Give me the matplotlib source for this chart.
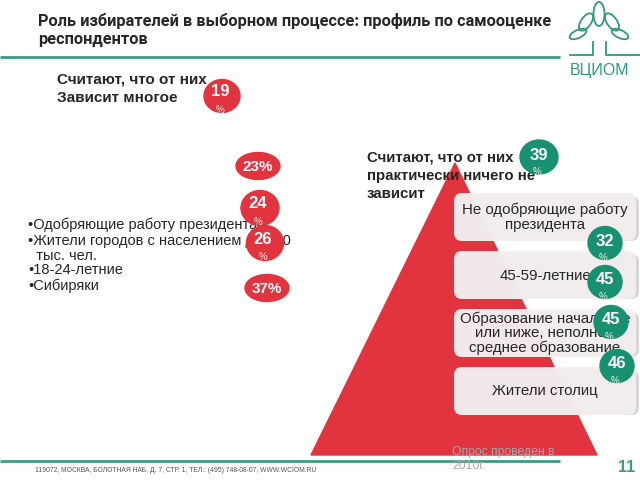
import matplotlib
matplotlib.use("Agg")
import matplotlib.pyplot as plt
from matplotlib.patches import Ellipse, Polygon, FancyBboxPatch

# ---------------- data ----------------
title = "Роль избирателей в выборном процессе: профиль по самооценке\nреспондентов"
left_header = "Считают, что от них\nЗависит многое"
right_header = "Считают, что от них\nпрактически ничего не\nзависит"
left_values = [19, 23, 24, 26, 37]
left_pct_inline = [False, True, False, False, True]
left_groups = ["•Одобряющие работу президента",
               "•Жители городов с населением до 500",
               "  тыс. чел.",
               "•18-24-летние",
               "•Сибиряки"]
right_values = [39, 32, 45, 45, 46]
right_groups = ["Не одобряющие работу\nпрезидента",
                "45-59-летние",
                "Образование начальное\nили ниже, неполное\nсреднее образование",
                "Жители столиц"]
footer = "119072, МОСКВА, БОЛОТНАЯ НАБ, Д. 7, СТР. 1, ТЕЛ.: (495) 748-08-07, WWW.WCIOM.RU"
note = "Опрос проведен в\n2010г."
page = "11"

# ---------------- layout ----------------
RED = "#E2343F"
GREEN = "#17916F"
LINE = "#3C9C83"
TXT = "#262626"
FONT = ["Liberation Sans", "DejaVu Sans"]

left_pos = [(222, 96, 36, 33), (258, 166, 44, 27), (260, 208, 38, 35),
            (265, 243, 37, 35), (267, 288, 44, 27)]
right_pos = [(539, 157, 38, 34), (605, 243, 34, 33), (605, 282, 34, 33),
             (611, 322, 34, 33), (617, 366, 34, 33)]
list_y = [225, 241, 256, 270, 286]
box_tops = [193, 251, 309, 367]
box_h = 51

fig = plt.figure(figsize=(6.4, 4.8), dpi=100)
ax = fig.add_axes([0, 0, 1, 1])
ax.set_xlim(0, 640)
ax.set_ylim(480, 0)
ax.axis("off")

# title
ax.text(38, 30, title, fontsize=11.8, fontweight="bold", color=TXT,
        family=["Roboto", "DejaVu Sans"], va="center", ha="left", linespacing=1.25)
ax.plot([0, 560], [57, 57], color=LINE, lw=2, solid_capstyle="butt")

# logo
lc = "#2E9A7C"
ax.plot([570, 593, 593], [55, 55, 42], color=lc, lw=1.3)
ax.plot([640, 606, 606], [55, 55, 42], color=lc, lw=1.3)
for (cx, cy, w, h, ang) in [(599, 14, 11, 24, 0), (586, 22, 10, 20, 35),
                            (612, 22, 10, 20, -35), (578, 34, 8, 18, 65),
                            (620, 34, 8, 18, -65)]:
    ax.add_patch(Ellipse((cx, cy), w, h, angle=ang, fill=False, ec=lc, lw=1.3))
ax.text(600, 70, "ВЦИОМ", fontsize=11.5, color=lc, family=FONT,
        ha="center", va="center")

# left header
ax.text(57, 89, left_header, fontsize=11, fontweight="bold", color=TXT,
        family=FONT, va="center", ha="left", linespacing=1.4)

# left bullet list
for y, g in zip(list_y, left_groups):
    ax.text(28, y, g, fontsize=10.5, color=TXT, family=FONT, va="center",
            ha="left")

# left circles
for v, inline, (cx, cy, w, h) in zip(left_values, left_pct_inline, left_pos):
    ax.add_patch(Ellipse((cx, cy), w, h, color=RED, zorder=3))
    if inline:
        ax.text(cx, cy + 1, f"{v}%", fontsize=11, fontweight="bold",
                color="white", family=FONT, ha="center", va="center", zorder=4)
    else:
        ax.text(cx - 2, cy - 4, f"{v}", fontsize=12, fontweight="bold",
                color="white", family=FONT, ha="center", va="center", zorder=4)
        ax.text(cx - 2, cy + 14, "%", fontsize=7, color="#f0f0f0",
                family=FONT, ha="center", va="center", zorder=4)

# pyramid
ax.add_patch(Polygon([(455, 163), (311, 455), (597, 455)], closed=True,
                     color=RED, zorder=1))

# right header
ax.text(367, 176, right_header, fontsize=10.8, fontweight="bold", color=TXT,
        family=FONT, va="center", ha="left", linespacing=1.38, zorder=2)

# boxes
for top, g in zip(box_tops, right_groups):
    ax.add_patch(FancyBboxPatch((457, top + 3), 182, box_h - 6,
                                boxstyle="round,pad=0,rounding_size=8",
                                fc="#9a9a9a", ec="none", alpha=0.4, zorder=2))
    ax.add_patch(FancyBboxPatch((454, top), 182, box_h - 3,
                                boxstyle="round,pad=0,rounding_size=8",
                                fc="#F3EFEF", ec="none", alpha=0.96, zorder=2))
    ax.text(545, top + box_h / 2 - 1, g, fontsize=10.8, color=TXT, family=FONT,
            ha="center", va="center", linespacing=1.05, zorder=2.5)

# right circles
for v, (cx, cy, w, h) in zip(right_values, right_pos):
    ax.add_patch(Ellipse((cx, cy), w, h, color=GREEN, zorder=3))
    ax.text(cx, cy - 2, f"{v}", fontsize=12, fontweight="bold",
            color="white", family=FONT, ha="center", va="center", zorder=4)
    ax.text(cx - 2, cy + 15, "%", fontsize=7, color="#f0f0f0",
            family=FONT, ha="center", va="center", zorder=4)

# footer
ax.plot([0, 560], [461, 461], color=LINE, lw=2, solid_capstyle="butt")
ax.text(35, 470, footer, fontsize=4.9, color="#555555", family=FONT,
        ha="left", va="center")
ax.text(452, 459, note, fontsize=8.7, color="#a8a8a8", family=FONT,
        ha="left", va="center", linespacing=1.2, zorder=5)
ax.text(627, 467, page, fontsize=11.5, fontweight="bold", color=LINE,
        family=FONT, ha="center", va="center")

fig.savefig("out.png", dpi=100)
